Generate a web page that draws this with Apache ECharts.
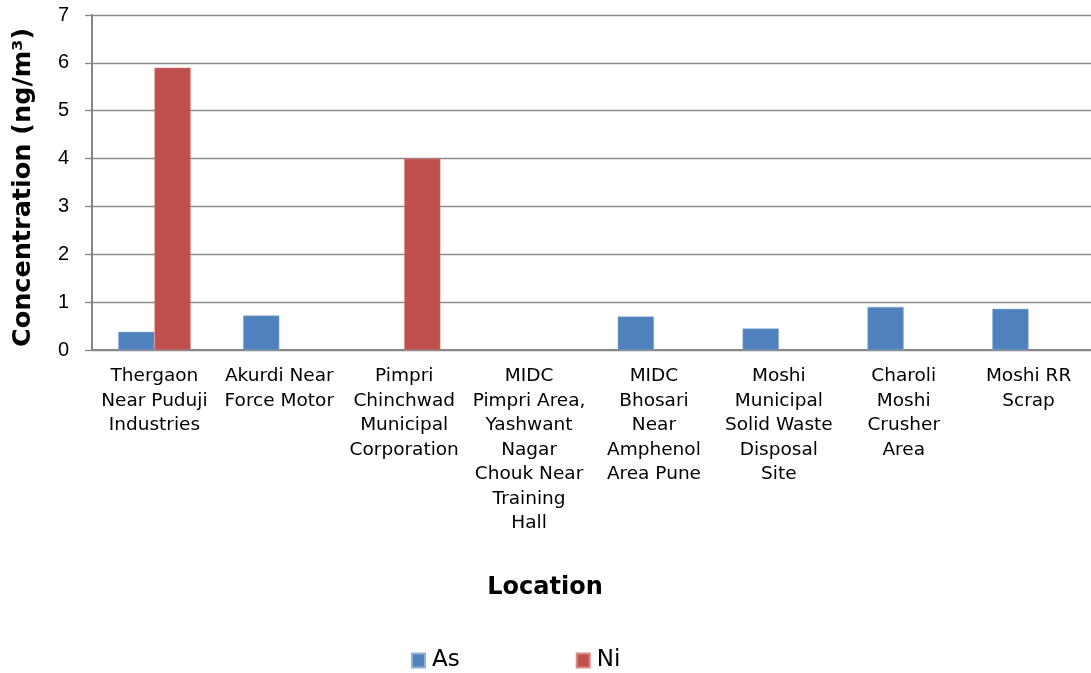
<!DOCTYPE html>
<html>
<head>
<meta charset="utf-8">
<script src="https://cdn.jsdelivr.net/npm/echarts@6/dist/echarts.min.js"></script>
<style>
html,body{margin:0;padding:0;background:#fff;}
#chart{width:1091px;height:673px;}
</style>
</head>
<body>
<div id="chart"></div>
<script>
const categories = [
  "Thergaon\nNear Puduji\nIndustries",
  "Akurdi Near\nForce Motor",
  "Pimpri\nChinchwad\nMunicipal\nCorporation",
  "MIDC\nPimpri Area,\nYashwant\nNagar\nChouk Near\nTraining\nHall",
  "MIDC\nBhosari\nNear\nAmphenol\nArea Pune",
  "Moshi\nMunicipal\nSolid Waste\nDisposal\nSite",
  "Charoli\nMoshi\nCrusher\nArea",
  "Moshi RR\nScrap"
];
const asValues = [0.38, 0.72, null, null, 0.70, 0.45, 0.90, 0.86];
const niValues = [5.9, null, 4.0, null, null, null, null, null];
const yTicks = { min: 0, max: 7, interval: 1 };

const chart = echarts.init(document.getElementById('chart'), null, {renderer: 'canvas'});
chart.setOption({
  animation: false,
  backgroundColor: '#ffffff',
  grid: { left: 92, top: 15, width: 1001, height: 335, containLabel: false },
  legend: {
    left: 411, top: 649, padding: 0,
    itemWidth: 13, itemHeight: 14, itemGap: 116,
    icon: 'rect',
    textStyle: { fontFamily: 'DejaVu Sans', fontSize: 23, color: '#000', padding: [0,0,0,2] },
    data: ['As', 'Ni']
  },
  xAxis: {
    type: 'category',
    data: categories,
    name: 'Location',
    nameLocation: 'middle',
    nameGap: 226,
    nameTextStyle: { fontFamily: 'DejaVu Sans', fontSize: 24, fontWeight: 'bold', color: '#000', padding: [0, 93, 0, 0] },
    axisLine: { lineStyle: { color: '#868686', width: 2 } },
    axisTick: { show: false },
    axisLabel: {
      interval: 0, margin: 14,
      fontFamily: 'DejaVu Sans', fontSize: 18.5, lineHeight: 24.5, color: '#000', align: 'center'
    },
    splitLine: { show: false }
  },
  yAxis: {
    type: 'value',
    min: yTicks.min, max: yTicks.max, interval: yTicks.interval,
    name: 'Concentration (ng/m³)',
    nameLocation: 'middle',
    nameRotate: 90,
    nameGap: 56,
    nameTextStyle: { fontFamily: 'DejaVu Sans', fontSize: 25.5, fontWeight: 'bold', color: '#000', padding: [0, 10, 0, 0] },
    axisLine: { show: true, lineStyle: { color: '#868686', width: 2 } },
    axisTick: { show: true, length: 7, lineStyle: { color: '#868686', width: 1.3 } },
    axisLabel: { margin: 23, fontFamily: 'Liberation Sans', fontSize: 20, color: '#000' },
    splitLine: { show: true, lineStyle: { color: '#8a8a8a', width: 1.3 } }
  },
  series: [
    {
      name: 'As', type: 'bar', data: asValues,
      barGap: '0%', barCategoryGap: '42%',
      itemStyle: { color: '#4F81BD', borderColor: '#8fb0da', borderWidth: 0.5 }
    },
    {
      name: 'Ni', type: 'bar', data: niValues,
      barGap: '0%', barCategoryGap: '42%',
      itemStyle: { color: '#C0504D', borderColor: '#d98a88', borderWidth: 0.5 }
    }
  ]
});
</script>
</body>
</html>
